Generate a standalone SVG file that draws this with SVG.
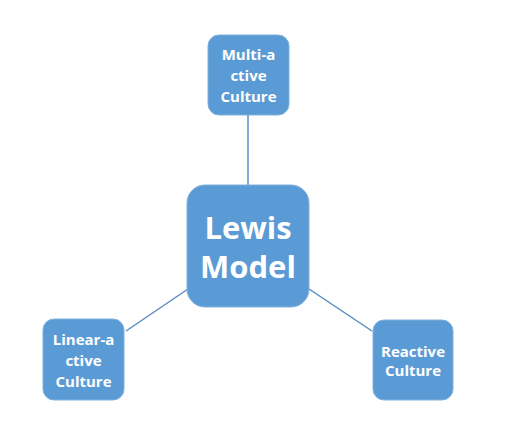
<svg xmlns="http://www.w3.org/2000/svg" width="513" height="436" viewBox="0 0 513 436">
<style>
.box{fill:#5B9BD5;stroke:#7fb1de;stroke-width:1}
.t{font-family:"Open Sans","Liberation Sans",sans-serif;font-weight:bold;fill:#ffffff;text-anchor:middle}
.s{font-size:15px}
.b{font-size:31px}
.c{stroke:#5a8cc4;stroke-width:1.5;fill:none}
</style>
<rect width="513" height="436" fill="#ffffff"/>
<g id="connectors">
<line class="c" x1="248" y1="115" x2="248" y2="185"/>
<line class="c" x1="126" y1="331" x2="188" y2="289"/>
<line class="c" x1="309" y1="289" x2="372" y2="331"/>
</g>
<g id="lewis">
<rect class="box" x="187" y="185" width="122" height="122" rx="18"/>
<text class="t b" x="248" y="239">Lewis</text>
<text class="t b" x="248" y="278">Model</text>
</g>
<g id="multi">
<rect class="box" x="208" y="35" width="81" height="80" rx="11"/>
<text class="t s" x="248.5" y="60">Multi-a</text>
<text class="t s" x="248.5" y="81">ctive</text>
<text class="t s" x="248.5" y="102">Culture</text>
</g>
<g id="linear">
<rect class="box" x="43" y="319" width="81" height="81" rx="11"/>
<text class="t s" x="83.5" y="345">Linear-a</text>
<text class="t s" x="83.5" y="366">ctive</text>
<text class="t s" x="83.5" y="387">Culture</text>
</g>
<g id="reactive">
<rect class="box" x="373" y="320" width="80" height="80" rx="11"/>
<text class="t s" x="413" y="357">Reactive</text>
<text class="t s" x="413" y="376">Culture</text>
</g>
</svg>
